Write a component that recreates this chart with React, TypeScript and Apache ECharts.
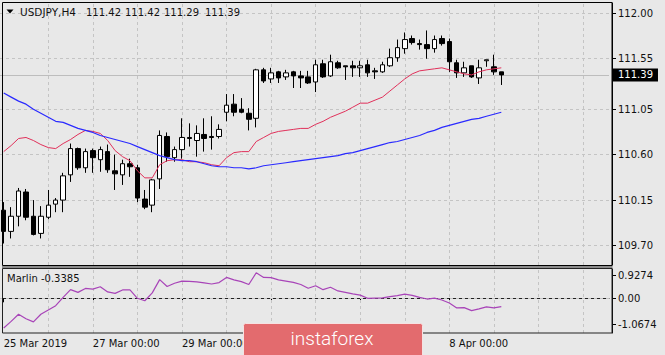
import React, { useEffect, useRef } from 'react';
import * as echarts from 'echarts';

const FONT = 'DejaVu Sans';

// ---- time axis ----
const dayNames = ['25 Mar', '26 Mar', '27 Mar', '28 Mar', '29 Mar', '1 Apr', '2 Apr', '3 Apr', '4 Apr', '5 Apr', '8 Apr', '9 Apr', '10 Apr', '11 Apr'];
const hourNames = ['00:00', '04:00', '08:00', '12:00', '16:00', '20:00'];
const slotCount = 82; // 68 bars + empty right shift
const categories: string[] = dayNames.flatMap((d) => hourNames.map((h) => `${d} ${h}`)).slice(0, slotCount);
// labels visible in the reference (2 Apr / 4 Apr are hidden behind the logo)
const xLabelCats = ['25 Mar 00:00', '27 Mar 00:00', '29 Mar 00:00', '8 Apr 00:00'];
const xLabelTexts = ['25 Mar 2019', '27 Mar 00:00', '29 Mar 00:00', '8 Apr 00:00'];
const xTickCats = ['25 Mar 00:00', '27 Mar 00:00', '29 Mar 00:00', '2 Apr 00:00', '4 Apr 00:00', '8 Apr 00:00'];

// ---- USDJPY H4 candles ----
const opens = [110.05, 109.84, 109.99, 110.23, 109.99, 109.82, 109.98, 110.11, 110.15, 110.40,
  110.66, 110.47, 110.64, 110.55, 110.63, 110.44, 110.40, 110.51, 110.47, 110.16,
  110.10, 110.36, 110.78, 110.57, 110.65, 110.77, 110.74, 110.80, 110.78, 110.78,
  111.02, 111.10, 111.05, 111.01, 110.96, 111.44, 111.35, 111.42, 111.37, 111.42,
  111.38, 111.37, 111.32, 111.50, 111.38, 111.51, 111.48, 111.48, 111.46, 111.49,
  111.43, 111.42, 111.48, 111.56, 111.65, 111.75, 111.70, 111.69, 111.65, 111.75,
  111.72, 111.51, 111.41, 111.48, 111.36, 111.53, 111.47, 111.42];
const highs = [110.13, 110.08, 110.27, 110.26, 110.15, 110.09, 110.25, 110.17, 110.42, 110.71,
  110.67, 110.66, 110.66, 110.68, 110.70, 110.60, 110.55, 110.56, 110.50, 110.25,
  110.36, 110.84, 110.82, 110.68, 110.96, 110.91, 110.89, 110.96, 110.98, 110.90,
  111.20, 111.20, 111.16, 111.06, 111.45, 111.46, 111.46, 111.43, 111.44, 111.43,
  111.43, 111.43, 111.54, 111.54, 111.59, 111.53, 111.48, 111.53, 111.53, 111.54,
  111.46, 111.52, 111.65, 111.74, 111.81, 111.78, 111.74, 111.83, 111.78, 111.78,
  111.75, 111.54, 111.52, 111.48, 111.54, 111.54, 111.59, 111.42];
const lows = [109.72, 109.77, 109.89, 109.95, 109.80, 109.77, 109.96, 110.03, 110.03, 110.33,
  110.45, 110.42, 110.42, 110.43, 110.42, 110.25, 110.30, 110.38, 110.13, 110.06,
  110.03, 110.26, 110.53, 110.53, 110.56, 110.68, 110.58, 110.63, 110.65, 110.76,
  110.93, 110.98, 111.01, 110.84, 110.87, 111.31, 111.31, 111.31, 111.34, 111.26,
  111.26, 111.30, 111.22, 111.36, 111.37, 111.45, 111.34, 111.37, 111.37, 111.37,
  111.35, 111.41, 111.47, 111.52, 111.60, 111.69, 111.64, 111.55, 111.61, 111.68,
  111.42, 111.36, 111.37, 111.36, 111.30, 111.47, 111.39, 111.29];
const closes = [109.84, 109.99, 110.24, 109.98, 109.81, 109.99, 110.10, 110.15, 110.39, 110.66,
  110.47, 110.63, 110.57, 110.65, 110.45, 110.41, 110.51, 110.48, 110.17, 110.08,
  110.35, 110.79, 110.58, 110.65, 110.77, 110.76, 110.81, 110.76, 110.77, 110.85,
  111.09, 111.02, 111.02, 110.95, 111.44, 111.33, 111.41, 111.36, 111.41, 111.38,
  111.36, 111.31, 111.49, 111.37, 111.52, 111.46, 111.47, 111.46, 111.48, 111.41,
  111.42, 111.49, 111.56, 111.66, 111.74, 111.71, 111.69, 111.65, 111.74, 111.70,
  111.52, 111.41, 111.46, 111.37, 111.46, 111.54, 111.42, 111.39];

// ---- moving averages ----
const maFast = [110.63, 110.69, 110.76, 110.77, 110.74, 110.70, 110.67, 110.66, 110.71, 110.75,
  110.80, 110.84, 110.83, 110.81, 110.74, 110.64, 110.58, 110.54, 110.44, 110.37,
  110.37, 110.50, 110.54, 110.55, 110.55, 110.53, 110.53, 110.52, 110.50, 110.49,
  110.57, 110.62, 110.63, 110.63, 110.73, 110.77, 110.81, 110.83, 110.84, 110.85,
  110.86, 110.86, 110.90, 110.93, 110.97, 111.00, 111.03, 111.07, 111.11, 111.11,
  111.14, 111.17, 111.23, 111.29, 111.35, 111.40, 111.43, 111.44, 111.45, 111.46,
  111.44, 111.42, 111.40, 111.39, 111.42, 111.44, 111.45, 111.46];
const maSlow = [111.21, 111.17, 111.13, 111.10, 111.05, 111.01, 110.97, 110.93, 110.92, 110.89,
  110.86, 110.84, 110.82, 110.79, 110.77, 110.75, 110.73, 110.71, 110.68, 110.65,
  110.62, 110.59, 110.57, 110.55, 110.54, 110.54, 110.53, 110.51, 110.49, 110.48,
  110.48, 110.47, 110.47, 110.46, 110.47, 110.49, 110.50, 110.51, 110.52, 110.53,
  110.54, 110.55, 110.56, 110.57, 110.58, 110.59, 110.61, 110.62, 110.64, 110.66,
  110.68, 110.70, 110.72, 110.73, 110.75, 110.77, 110.79, 110.82, 110.84, 110.87,
  110.89, 110.91, 110.93, 110.95, 110.96, 110.98, 111.00, 111.02];

// ---- Marlin oscillator ----
const marlin = [-1.21, -0.94, -0.65, -0.83, -0.96, -0.65, -0.48, -0.30, 0.04, 0.35,
  0.24, 0.40, 0.37, 0.47, 0.26, 0.20, 0.34, 0.34, 0.00, -0.10,
  0.22, 0.76, 0.48, 0.61, 0.70, 0.69, 0.67, 0.63, 0.58, 0.64,
  0.85, 0.75, 0.68, 0.56, 1.04, 0.85, 0.84, 0.75, 0.70, 0.65,
  0.56, 0.41, 0.51, 0.35, 0.45, 0.30, 0.24, 0.18, 0.13, 0.00,
  0.01, 0.02, 0.07, 0.11, 0.17, 0.12, 0.04, -0.03, 0.01, -0.07,
  -0.19, -0.39, -0.38, -0.50, -0.43, -0.35, -0.39, -0.3385];

const priceTicks = [109.70, 110.15, 110.60, 111.05, 111.55, 112.00];
const marlinTicks = [-1.0674, 0, 0.9274];
const headerSymbol = 'USDJPY,H4';
const headerOHLC = ['111.42', '111.42', '111.29', '111.39'];
const lastPrice = 111.39;
const marlinLast = -0.3385;

const BG = '#e8e8e8';
const GRIDC = '#c4c4c4';

export default function App() {
  const ref = useRef<HTMLDivElement>(null);
  useEffect(() => {
    if (!ref.current) return;
    const chart = echarts.init(ref.current, undefined, { renderer: 'svg' });
    const candleData = opens.map((o, i) => [o, closes[i], lows[i], highs[i]]);
    const dayStarts = categories.filter((c, i) => i > 0 && c.endsWith('00:00'));
    const dash = { color: GRIDC, width: 1, type: [3, 3] as any };
    const txt = (x: number, y: number, text: string, size = 10, extra: any = {}) => ({
      type: 'text', x, y, z: 20, silent: true,
      style: { text, fill: '#111', fontSize: size, fontFamily: FONT, align: 'left', verticalAlign: 'middle', textAlign: 'left', textVerticalAlign: 'middle', ...extra },
    });
    const option: any = {
      animation: false,
      backgroundColor: BG,
      textStyle: { fontFamily: FONT },
      grid: [
        { left: 0, top: 3, width: 609, height: 262, outerBoundsMode: 'none', containLabel: false },
        { left: 0, top: 269, width: 609, height: 64, outerBoundsMode: 'none', containLabel: false },
      ],
      xAxis: [
        { type: 'category', gridIndex: 0, data: categories, boundaryGap: true, show: false },
        {
          type: 'category', gridIndex: 1, data: categories, boundaryGap: true,
          axisLine: { show: true, lineStyle: { color: '#222', width: 1 } },
          axisTick: { show: true, alignWithLabel: true, length: 4, interval: (i: number, v: string) => xTickCats.includes(v), lineStyle: { color: '#000' } },
          axisLabel: {
            show: true, interval: (i: number, v: string) => xLabelCats.includes(v), align: 'left', margin: 5,
            color: '#111', fontSize: 10, fontFamily: FONT, hideOverlap: false,
            formatter: (v: string) => { const k = xLabelCats.indexOf(v); return k >= 0 ? xLabelTexts[k] : ''; },
          },
          splitLine: { show: false },
        },
      ],
      yAxis: [
        {
          type: 'value', gridIndex: 0, position: 'right', offset: 3, min: 109.507, max: 112.102,
          axisLine: { show: true, lineStyle: { color: '#000' } },
          axisTick: { show: true, length: 4, customValues: priceTicks, lineStyle: { color: '#000' } },
          axisLabel: { customValues: priceTicks, formatter: (v: number) => v.toFixed(2), color: '#111', fontSize: 10, margin: 6, fontFamily: FONT, showMinLabel: true, showMaxLabel: true },
          splitLine: { show: false },
        },
        {
          type: 'value', gridIndex: 1, position: 'right', offset: 3, min: -1.411, max: 1.191,
          axisLine: { show: true, lineStyle: { color: '#000' } },
          axisTick: { show: true, length: 4, customValues: marlinTicks, lineStyle: { color: '#000' } },
          axisLabel: { customValues: marlinTicks, formatter: (v: number) => (v === 0 ? '0.00' : v.toFixed(4)), color: '#111', fontSize: 10, margin: 6, fontFamily: FONT, showMinLabel: true, showMaxLabel: true },
          splitLine: { show: false },
        },
      ],
      series: [
        {
          name: 'grid-main', type: 'line', xAxisIndex: 0, yAxisIndex: 0, data: [], z: 1, silent: true, clip: false,
          markLine: {
            z: 1, silent: true, symbol: ['none', 'none'], animation: false,
            label: { show: false }, lineStyle: dash,
            data: [
              ...dayStarts.map((c) => ({ xAxis: c })),
              ...priceTicks.map((v) => ({ yAxis: v })),
              {
                yAxis: lastPrice, lineStyle: { color: '#bdbdbd', width: 1, type: 'solid' },
                label: {
                  show: true, position: 'end', formatter: lastPrice.toFixed(2), color: '#fff', backgroundColor: '#000',
                  padding: [2, 5, 1, 5], distance: 4, fontSize: 10, fontFamily: FONT,
                },
              },
            ],
          },
        },
        {
          name: 'grid-sub', type: 'line', xAxisIndex: 1, yAxisIndex: 1, data: [], z: 1, silent: true,
          markLine: {
            z: 1, silent: true, symbol: ['none', 'none'], animation: false,
            label: { show: false }, lineStyle: dash,
            data: [...dayStarts.map((c) => ({ xAxis: c })), { yAxis: 0 }],
          },
        },
        {
          name: 'USDJPY', type: 'candlestick', xAxisIndex: 0, yAxisIndex: 0, data: candleData, z: 3, silent: true,
          barWidth: 5,
          itemStyle: { color: '#ffffff', color0: '#000000', borderColor: '#000000', borderColor0: '#000000', borderColorDoji: '#000000', borderWidth: 1 },
        },
        {
          name: 'MA fast', type: 'line', xAxisIndex: 0, yAxisIndex: 0, data: maFast, z: 4, silent: true,
          symbol: 'none', showSymbol: false, lineStyle: { color: '#e0305a', width: 1 },
        },
        {
          name: 'MA slow', type: 'line', xAxisIndex: 0, yAxisIndex: 0, data: maSlow, z: 4, silent: true,
          symbol: 'none', showSymbol: false, lineStyle: { color: '#2a2aff', width: 1.2 },
        },
        {
          name: 'Marlin', type: 'line', xAxisIndex: 1, yAxisIndex: 1, data: marlin, z: 4, silent: true,
          symbol: 'none', showSymbol: false, lineStyle: { color: '#a844b8', width: 1.2 },
        },
      ],
      graphic: [
        { type: 'rect', z: 15, silent: true, shape: { x: 2.5, y: 2.5, width: 609.5, height: 263 }, style: { fill: 'none', stroke: '#000', lineWidth: 1 } },
        { type: 'rect', z: 15, silent: true, shape: { x: 2, y: 266, width: 610.5, height: 2 }, style: { fill: '#8c8c8c' } },
        { type: 'rect', z: 15, silent: true, shape: { x: 2.5, y: 268.5, width: 609.5, height: 64.5 }, style: { fill: 'none', stroke: '#222', lineWidth: 1 } },
        { type: 'polygon', z: 20, silent: true, shape: { points: [[6.5, 9.5], [13.5, 9.5], [10, 13.5]] }, style: { fill: '#000' } },
        txt(20, 12, headerSymbol, 10.5),
        txt(86, 12, headerOHLC[0]),
        txt(125, 12, headerOHLC[1]),
        txt(164, 12, headerOHLC[2]),
        txt(205, 12, headerOHLC[3]),
        txt(7, 278.5, `Marlin ${marlinLast.toFixed(4)}`),
        {
          type: 'group', z: 100, silent: true,
          children: [
            { type: 'rect', z: 100, shape: { x: 243.5, y: 323.5, width: 179, height: 40, r: 2 }, style: { fill: '#e36b6e', stroke: '#f6e2e2', lineWidth: 1 } },
            {
              type: 'text', z: 101, x: 332, y: 338,
              style: { text: 'instaforex', fill: '#ffffff', fontSize: 19, fontFamily: 'Roboto', fontWeight: 300, align: 'center', verticalAlign: 'middle', textAlign: 'center', textVerticalAlign: 'middle' },
            },
          ],
        },
      ],
    };
    chart.setOption(option);
    return () => chart.dispose();
  }, []);
  return (
    <div style={{ position: 'fixed', left: 0, top: 0, width: 665, height: 355, background: BG }}>
      <div ref={ref} style={{ width: 665, height: 355 }} />
    </div>
  );
}
